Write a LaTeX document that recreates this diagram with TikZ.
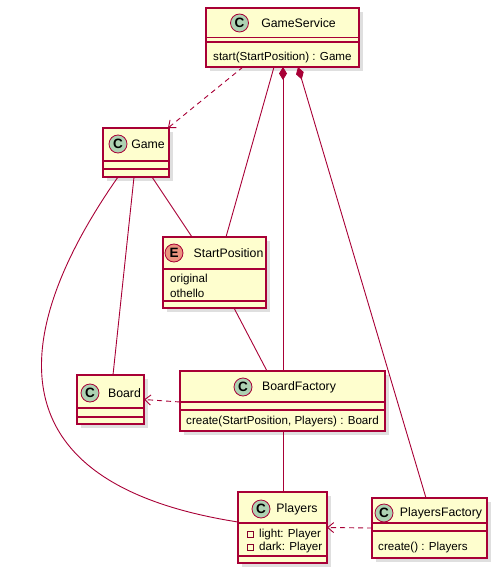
\documentclass[tikz,border=0pt]{standalone}
\usepackage{fontspec}
\setmainfont{Liberation Sans}
\usetikzlibrary{arrows.meta,calc,positioning,shadows}
\definecolor{uml}{RGB}{168,0,54}
\definecolor{umlfill}{RGB}{254,254,206}
\definecolor{cspot}{RGB}{173,209,178}
\definecolor{espot}{RGB}{235,147,127}

\begin{document}
\begin{tikzpicture}[x=1pt,y=-1pt,
  cls/.style={draw=uml,fill=umlfill,line width=1.2pt,inner sep=0pt,outer sep=0pt,anchor=north west,
    drop shadow={shadow xshift=4pt,shadow yshift=-4pt,opacity=.25}},
  sepline/.style={draw=uml,line width=1.2pt},
  spot/.style={circle,draw=uml,line width=.8pt,minimum size=18pt,inner sep=0pt,font=\bfseries\fontsize{13.5}{13.5}\selectfont},
  cname/.style={inner sep=0pt,font=\fontsize{12.3}{14}\selectfont},
  member/.style={inner sep=0pt,anchor=west,font=\fontsize{11.6}{13}\selectfont},
  link/.style={draw=uml,line width=.9pt},
  dep/.style={link,dash pattern=on 5pt off 4pt,-{Straight Barb[length=6pt,width=10pt]}},
  comp/.style={link,{Diamond[length=13pt,width=8pt,fill=uml]}-}]
  \useasboundingbox (0,0) rectangle (498,577);
  % class boxes
  \node[cls,minimum width=153pt,minimum height=59pt] (gs) at (206,8) {};
  \node[cls,minimum width=66pt,minimum height=49pt] (game) at (103,128) {};
  \node[cls,minimum width=103pt,minimum height=71pt] (sp) at (163,237) {};
  \node[cls,minimum width=67pt,minimum height=49pt] (board) at (77,375) {};
  \node[cls,minimum width=205pt,minimum height=60pt] (bf) at (180,371) {};
  \node[cls,minimum width=89pt,minimum height=71pt] (pl) at (238,492) {};
  \node[cls,minimum width=115pt,minimum height=60pt] (pf) at (372,498) {};
  \foreach \n/\y in {gs/37.5,gs/42,game/161,game/169,sp/269,sp/301,board/408,board/417,
                     bf/402,bf/410,pl/523,pl/556,pf/523,pf/531}
    \draw[sepline] (\n.west |- 0,\y) -- (\n.east |- 0,\y);
  % headers
  \node[spot,fill=cspot] (gsC) at (239.5,23) {C};
  \node[cname] (gsN) at (298.5,23) {GameService};
  \node[spot,fill=cspot] (gameC) at (118,144) {C};
  \node[cname] (gameN) at (148,144) {Game};
  \node[spot,fill=espot] (spC) at (174,253) {E};
  \node[cname] (spN) at (228.5,253) {StartPosition};
  \node[spot,fill=cspot] (boardC) at (90,393) {C};
  \node[cname] (boardN) at (124.5,393) {Board};
  \node[spot,fill=cspot] (bfC) at (243,387) {C};
  \node[cname] (bfN) at (299,387) {BoardFactory};
  \node[spot,fill=cspot] (plC) at (261,509) {C};
  \node[cname] (plN) at (297,509) {Players};
  \node[spot,fill=cspot] (pfC) at (384,513) {C};
  \node[cname] (pfN) at (441,513) {PlayersFactory};
  % members
  \node[member] (gsM) at (213,57.5) {start(StartPosition) : Game};
  \node[member] (spA) at (170,279) {original};
  \node[member] (spB) at (170,293) {othello};
  \node[member] (bfM) at (186,421.5) {create(StartPosition, Players) : Board};
  \draw[uml!80!black,line width=.7pt] (247,531) rectangle (253,537) (247,544) rectangle (253,550);
  \node[member] (plA) at (259,534) {light: Player};
  \node[member] (plB) at (259,547) {dark: Player};
  \node[member] (pfM) at (378,547.5) {create() : Players};
  % connectors
  \draw[dep] ([xshift=37pt]gs.south west) -- ([xshift=-1pt]game.north east);
  \draw[link] ([xshift=68pt]gs.south west) -- ([xshift=63pt]sp.north west);
  \draw[comp] ([xshift=77pt]gs.south west) -- ([xshift=103pt]bf.north west);
  \draw[comp] ([xshift=92pt]gs.south west) -- ([xshift=54pt]pf.north west);
  \draw[link] ([xshift=49pt]game.south west) -- ([xshift=29pt]sp.north west);
  \draw[link] ([xshift=31pt]game.south west) -- ([xshift=36pt]board.north west);
  \draw[link] ([xshift=15pt]game.south west) .. controls (25,310) and (-30,480) .. ([yshift=5.5pt]pl.west);
  \draw[link] ([xshift=71pt]sp.south west) -- ([xshift=87pt]bf.north west);
  \draw[link] ([xshift=103pt]bf.south west) -- ([xshift=45pt]pl.north west);
  \draw[dep] (pf.west) -- (pl.east);
  \draw[dep] ([yshift=-1pt]bf.west) -- (board.east);
\end{tikzpicture}
\end{document}
